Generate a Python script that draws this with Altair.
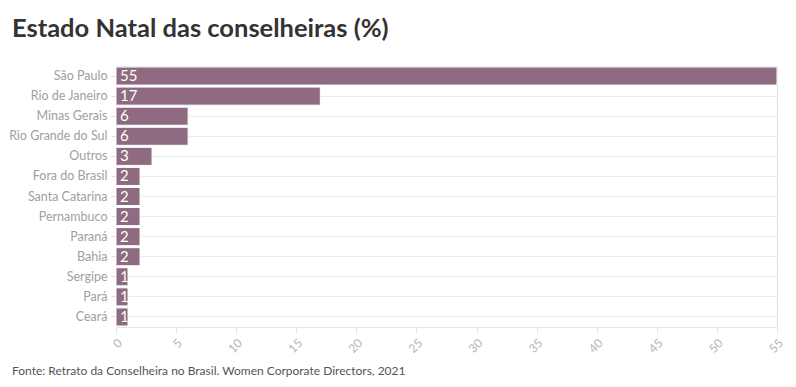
import altair as alt
import pandas as pd

categories = ["São Paulo", "Rio de Janeiro", "Minas Gerais", "Rio Grande do Sul", "Outros",
              "Fora do Brasil", "Santa Catarina", "Pernambuco", "Paraná", "Bahia",
              "Sergipe", "Pará", "Ceará"]
values = [55, 17, 6, 6, 3, 2, 2, 2, 2, 2, 1, 1, 1]
x_ticks = list(range(0, 56, 5))
title_text = "Estado Natal das conselheiras (%)"
footer_text = "Fonte: Retrato da Conselheira no Brasil. Women Corporate Directors, 2021"

df = pd.DataFrame({"estado": categories, "pct": values})

FONT = "Lato"
W, H = 661, 261

x_enc = alt.X("pct:Q", scale=alt.Scale(domain=[0, 55], nice=False),
              axis=alt.Axis(values=x_ticks, title=None, labelAngle=-45, grid=False,
                            labelColor="#b5b5b5", labelFontSize=12, labelFont=FONT,
                            domainColor="#e3e3e3", tickColor="#e3e3e3", tickSize=6,
                            labelPadding=4))
y_enc = alt.Y("estado:N", sort=categories, title=None,
              scale=alt.Scale(paddingInner=0.1, paddingOuter=0.05),
              axis=alt.Axis(grid=True, gridColor="#ebebeb", domain=False,
                            tickColor="#dcdcdc", tickSize=5, labelColor="#a0a0a0",
                            labelFontSize=12.5, labelFont=FONT, labelPadding=4))

bars = alt.Chart(df).mark_bar(color="#8e6b80", stroke="white", strokeWidth=1).encode(
    x=x_enc, y=y_enc)

labels = alt.Chart(df).mark_text(align="left", baseline="middle", dx=4, color="white",
                                 fontSize=15, font=FONT).encode(
    x=alt.datum(0), y=alt.Y("estado:N", sort=categories), text="pct:Q")

title = alt.Chart(pd.DataFrame({"t": [title_text]})).mark_text(
    align="left", baseline="alphabetic", fontSize=25.5, fontWeight="bold",
    color="#333333", font=FONT).encode(
    x=alt.value(-104), y=alt.value(-29), text="t:N")

footer = alt.Chart(pd.DataFrame({"t": [footer_text]})).mark_text(
    align="left", baseline="alphabetic", fontSize=12, color="#555555", font=FONT).encode(
    x=alt.value(-104), y=alt.value(309), text="t:N")

chart = alt.layer(bars, labels, title, footer).properties(
    width=W, height=H,
    autosize=alt.AutoSizeParams(type="none"),
    padding={"left": 108, "top": 58, "right": 11, "bottom": 52},
).configure_view(stroke=None).configure(background="white")

chart.save("out.html", embed_options={"renderer": "svg", "actions": False})
